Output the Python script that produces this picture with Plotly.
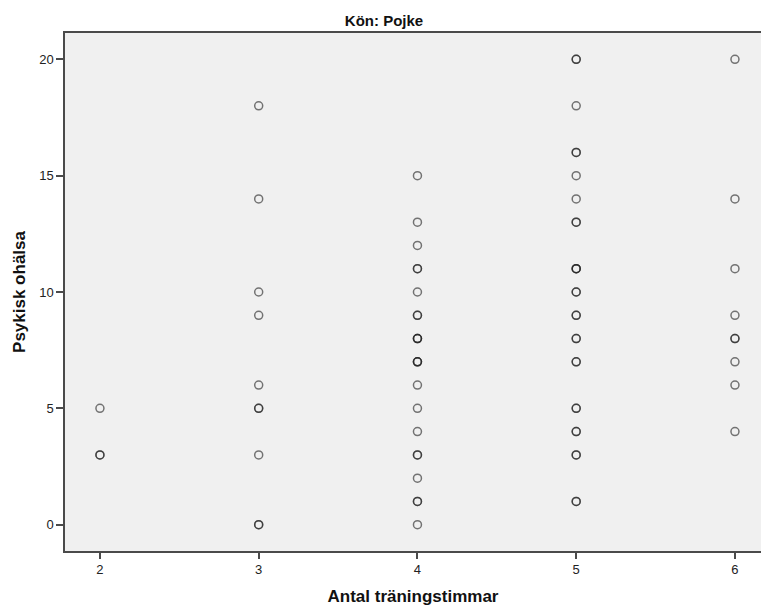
import plotly.graph_objects as go

# Observations: "Psykisk ohälsa" values for each number of training hours (duplicates = overlapping points)
hours = [2, 3, 4, 5, 6]
ohalsa_2 = [5, 3, 3]
ohalsa_3 = [18, 14, 10, 9, 6, 5, 5, 3, 0, 0]
ohalsa_4 = [15, 13, 12, 11, 11, 10, 9, 9, 8, 8, 8, 7, 7, 7, 6, 5, 4, 3, 3, 2, 1, 1, 0]
ohalsa_5 = [20, 20, 18, 16, 16, 15, 14, 13, 13, 11, 11, 11, 10, 10, 9, 9, 8, 8,
            7, 7, 5, 5, 4, 4, 3, 3, 1, 1]
ohalsa_6 = [20, 14, 11, 9, 8, 8, 7, 6, 4]

x_ticks = [2, 3, 4, 5, 6]
y_ticks = [0, 5, 10, 15, 20]

title_text = "Kön: Pojke"
x_title = "Antal träningstimmar"
y_title = "Psykisk ohälsa"

groups = [ohalsa_2, ohalsa_3, ohalsa_4, ohalsa_5, ohalsa_6]
xs, ys = [], []
for h, vals in zip(hours, groups):
    for v in vals:
        xs.append(h)
        ys.append(v)

fig = go.Figure()
fig.add_trace(go.Scatter(
    x=xs, y=ys, mode="markers",
    marker=dict(symbol="circle-open", size=8,
                color="rgba(30,30,30,0.6)",
                line=dict(width=1.5, color="rgba(30,30,30,0.6)")),
    showlegend=False, hoverinfo="x+y",
))

font_family = "Liberation Sans, Arial, sans-serif"

fig.update_layout(
    width=761, height=609,
    margin=dict(l=65, r=0, t=33, b=58),
    paper_bgcolor="white",
    plot_bgcolor="#f0f0f0",
    font=dict(family=font_family, color="#222222"),
    title=dict(text="<b>" + title_text + "</b>", x=384 / 761, xref="container",
               xanchor="center", y=1 - 20.5 / 609, yref="container", yanchor="middle",
               font=dict(size=15, color="#111111", family=font_family)),
    xaxis=dict(
        range=[1.78, 6.164], tickvals=x_ticks, ticktext=[str(t) for t in x_ticks],
        showgrid=False, zeroline=False,
        showline=True, linecolor="#4a4a4a", linewidth=1.5, mirror=True,
        ticks="outside", ticklen=6, tickwidth=1.5, tickcolor="#4a4a4a",
        tickfont=dict(size=13, color="#222222"),
        title=dict(text="<b>" + x_title + "</b>", standoff=14,
                   font=dict(size=17, color="#111111")),
    ),
    yaxis=dict(
        range=[-1.13, 21.13], tickvals=y_ticks, ticktext=[str(t) for t in y_ticks],
        showgrid=False, zeroline=False,
        showline=True, linecolor="#4a4a4a", linewidth=1.5, mirror=False,
        ticks="outside", ticklen=7, tickwidth=1.5, tickcolor="#4a4a4a",
        tickfont=dict(size=13, color="#222222"),
        title=dict(text="<b>" + y_title + "</b>", standoff=9,
                   font=dict(size=17, color="#111111")),
    ),
)

fig.write_html("out.html", config={"displayModeBar": False},
               post_script="document.body.style.margin='0';document.body.style.overflow='hidden';")
